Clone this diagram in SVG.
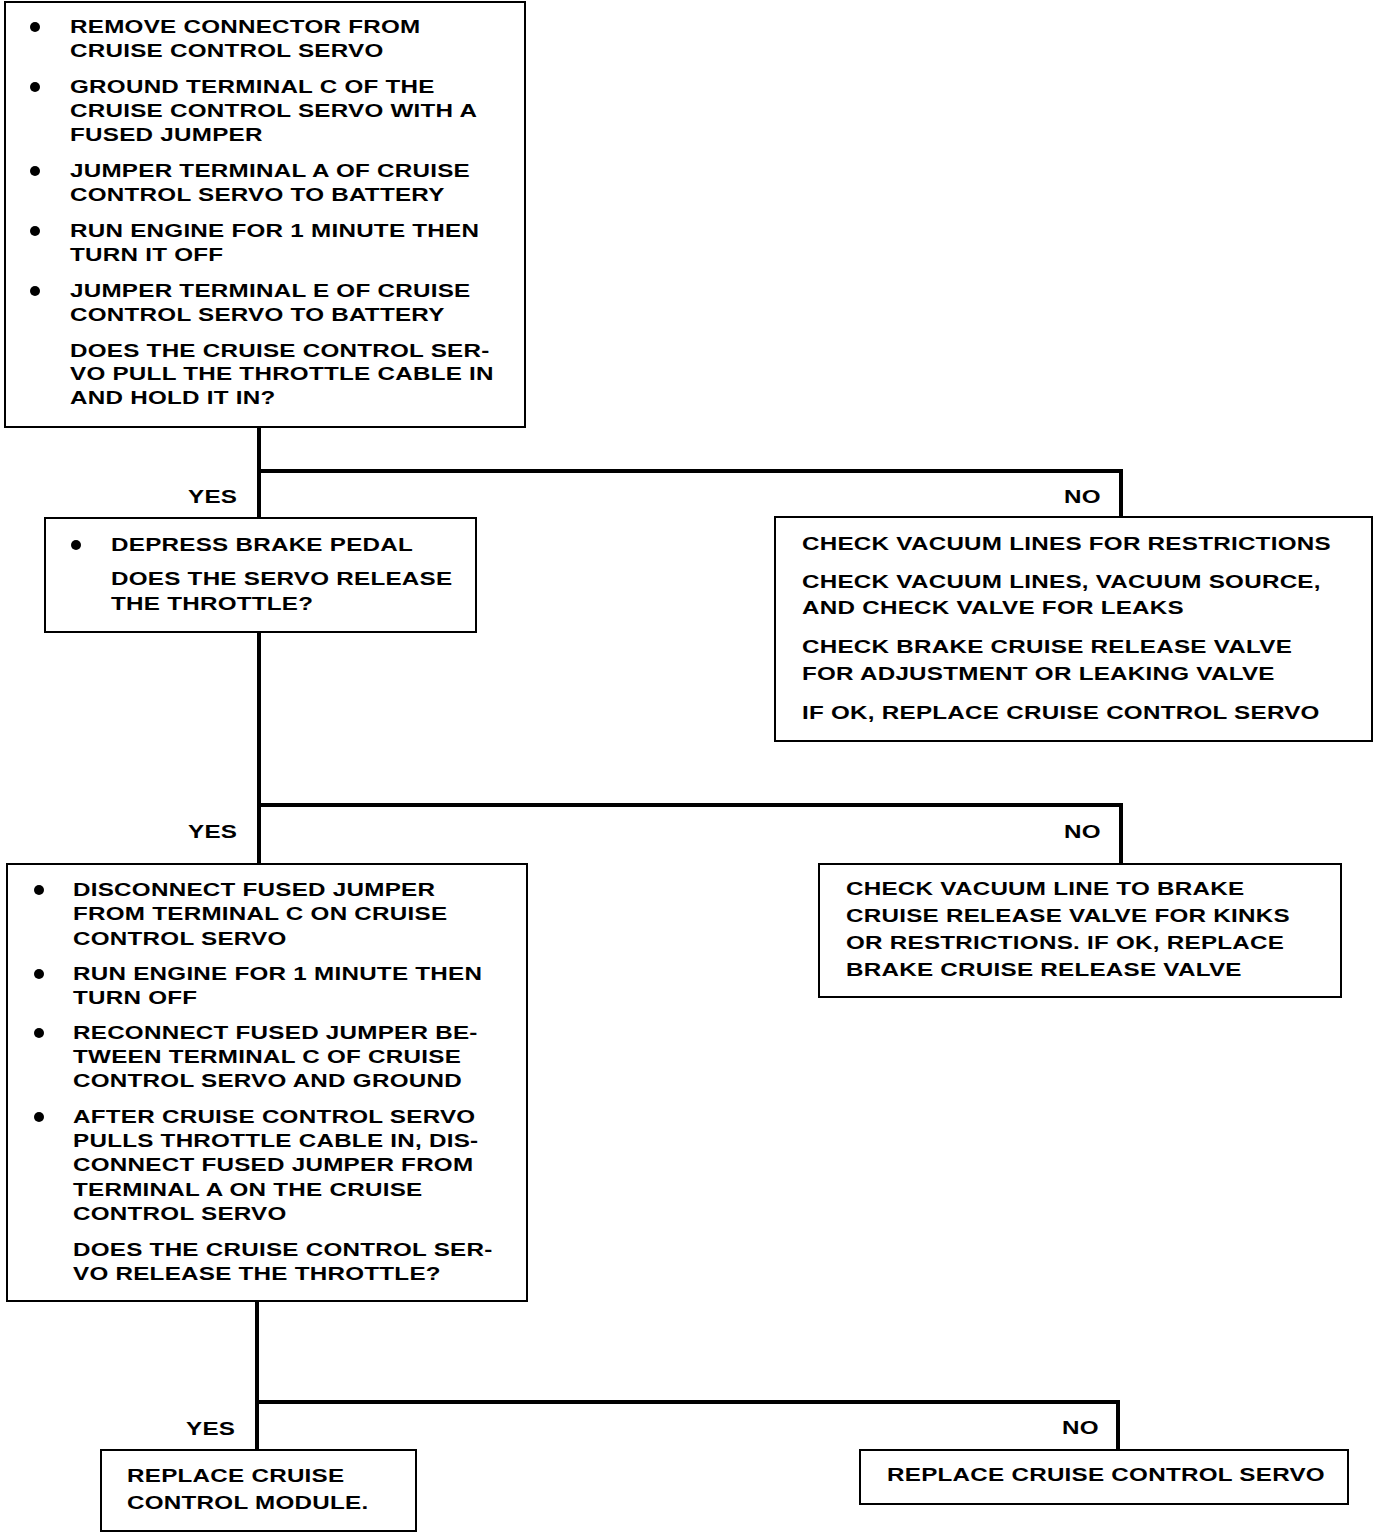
<svg xmlns="http://www.w3.org/2000/svg" width="1392" height="1534" viewBox="0 0 1392 1534">
<style>
.t{font-family:"Liberation Sans",Arial,sans-serif;font-weight:bold;font-size:19px;letter-spacing:0.2px;fill:#000}
.box{fill:#fff;stroke:#000;stroke-width:2}
.c{fill:none;stroke:#000;stroke-width:4}
.b{fill:#000}
</style>
<rect width="1392" height="1534" fill="#fff"/>
<g id="connectors">
<path class="c" d="M259 427 V518 M259 471 H1121 V517"/>
<path class="c" d="M259 632 V864 M259 805 H1121 V864"/>
<path class="c" d="M257 1301 V1450 M257 1402 H1118 V1450"/>
<g transform="translate(188,0) scale(1.275,1)"><text class="t" x="0" y="503">YES</text><text class="t" x="0" y="838">YES</text></g>
<g transform="translate(186,0) scale(1.275,1)"><text class="t" x="0" y="1435">YES</text></g>
<g transform="translate(1064,0) scale(1.275,1)"><text class="t" x="0" y="503">NO</text><text class="t" x="0" y="838">NO</text></g>
<g transform="translate(1062,0) scale(1.275,1)"><text class="t" x="0" y="1434">NO</text></g>
</g>
<g id="node1">
<rect class="box" x="5" y="2" width="520" height="425"/>
<circle class="b" cx="35" cy="27" r="5"/>
<circle class="b" cx="35" cy="87" r="5"/>
<circle class="b" cx="35" cy="171" r="5"/>
<circle class="b" cx="35" cy="231" r="5"/>
<circle class="b" cx="35" cy="291" r="5"/>
<g transform="translate(70,0) scale(1.275,1)">
<text class="t" x="0" y="33">REMOVE CONNECTOR FROM</text>
<text class="t" x="0" y="57">CRUISE CONTROL SERVO</text>
<text class="t" x="0" y="93">GROUND TERMINAL C OF THE</text>
<text class="t" x="0" y="117">CRUISE CONTROL SERVO WITH A</text>
<text class="t" x="0" y="141">FUSED JUMPER</text>
<text class="t" x="0" y="177">JUMPER TERMINAL A OF CRUISE</text>
<text class="t" x="0" y="201">CONTROL SERVO TO BATTERY</text>
<text class="t" x="0" y="237">RUN ENGINE FOR 1 MINUTE THEN</text>
<text class="t" x="0" y="261">TURN IT OFF</text>
<text class="t" x="0" y="297">JUMPER TERMINAL E OF CRUISE</text>
<text class="t" x="0" y="321">CONTROL SERVO TO BATTERY</text>
<text class="t" x="0" y="357">DOES THE CRUISE CONTROL SER-</text>
<text class="t" x="0" y="380">VO PULL THE THROTTLE CABLE IN</text>
<text class="t" x="0" y="404">AND HOLD IT IN?</text>
</g>
</g>
<g id="node2">
<rect class="box" x="45" y="518" width="431" height="114"/>
<circle class="b" cx="76" cy="545" r="5"/>
<g transform="translate(111,0) scale(1.275,1)">
<text class="t" x="0" y="551">DEPRESS BRAKE PEDAL</text>
<text class="t" x="0" y="585">DOES THE SERVO RELEASE</text>
<text class="t" x="0" y="610">THE THROTTLE?</text>
</g>
</g>
<g id="node3">
<rect class="box" x="775" y="517" width="597" height="224"/>
<g transform="translate(802,0) scale(1.275,1)">
<text class="t" x="0" y="550">CHECK VACUUM LINES FOR RESTRICTIONS</text>
<text class="t" x="0" y="588">CHECK VACUUM LINES, VACUUM SOURCE,</text>
<text class="t" x="0" y="614">AND CHECK VALVE FOR LEAKS</text>
<text class="t" x="0" y="653">CHECK BRAKE CRUISE RELEASE VALVE</text>
<text class="t" x="0" y="680">FOR ADJUSTMENT OR LEAKING VALVE</text>
<text class="t" x="0" y="719">IF OK, REPLACE CRUISE CONTROL SERVO</text>
</g>
</g>
<g id="node4">
<rect class="box" x="7" y="864" width="520" height="437"/>
<circle class="b" cx="39" cy="890" r="5"/>
<circle class="b" cx="39" cy="974" r="5"/>
<circle class="b" cx="39" cy="1033" r="5"/>
<circle class="b" cx="39" cy="1117" r="5"/>
<g transform="translate(73,0) scale(1.275,1)">
<text class="t" x="0" y="896">DISCONNECT FUSED JUMPER</text>
<text class="t" x="0" y="920">FROM TERMINAL C ON CRUISE</text>
<text class="t" x="0" y="945">CONTROL SERVO</text>
<text class="t" x="0" y="980">RUN ENGINE FOR 1 MINUTE THEN</text>
<text class="t" x="0" y="1004">TURN OFF</text>
<text class="t" x="0" y="1039">RECONNECT FUSED JUMPER BE-</text>
<text class="t" x="0" y="1063">TWEEN TERMINAL C OF CRUISE</text>
<text class="t" x="0" y="1087">CONTROL SERVO AND GROUND</text>
<text class="t" x="0" y="1123">AFTER CRUISE CONTROL SERVO</text>
<text class="t" x="0" y="1147">PULLS THROTTLE CABLE IN, DIS-</text>
<text class="t" x="0" y="1171">CONNECT FUSED JUMPER FROM</text>
<text class="t" x="0" y="1196">TERMINAL A ON THE CRUISE</text>
<text class="t" x="0" y="1220">CONTROL SERVO</text>
<text class="t" x="0" y="1256">DOES THE CRUISE CONTROL SER-</text>
<text class="t" x="0" y="1280">VO RELEASE THE THROTTLE?</text>
</g>
</g>
<g id="node5">
<rect class="box" x="819" y="864" width="522" height="133"/>
<g transform="translate(846,0) scale(1.275,1)">
<text class="t" x="0" y="895">CHECK VACUUM LINE TO BRAKE</text>
<text class="t" x="0" y="922">CRUISE RELEASE VALVE FOR KINKS</text>
<text class="t" x="0" y="949">OR RESTRICTIONS. IF OK, REPLACE</text>
<text class="t" x="0" y="976">BRAKE CRUISE RELEASE VALVE</text>
</g>
</g>
<g id="node6">
<rect class="box" x="101" y="1450" width="315" height="81"/>
<g transform="translate(127,0) scale(1.275,1)">
<text class="t" x="0" y="1482">REPLACE CRUISE</text>
<text class="t" x="0" y="1509">CONTROL MODULE.</text>
</g>
</g>
<g id="node7">
<rect class="box" x="860" y="1450" width="488" height="54"/>
<g transform="translate(887,0) scale(1.275,1)">
<text class="t" x="0" y="1481">REPLACE CRUISE CONTROL SERVO</text>
</g>
</g>
</svg>
